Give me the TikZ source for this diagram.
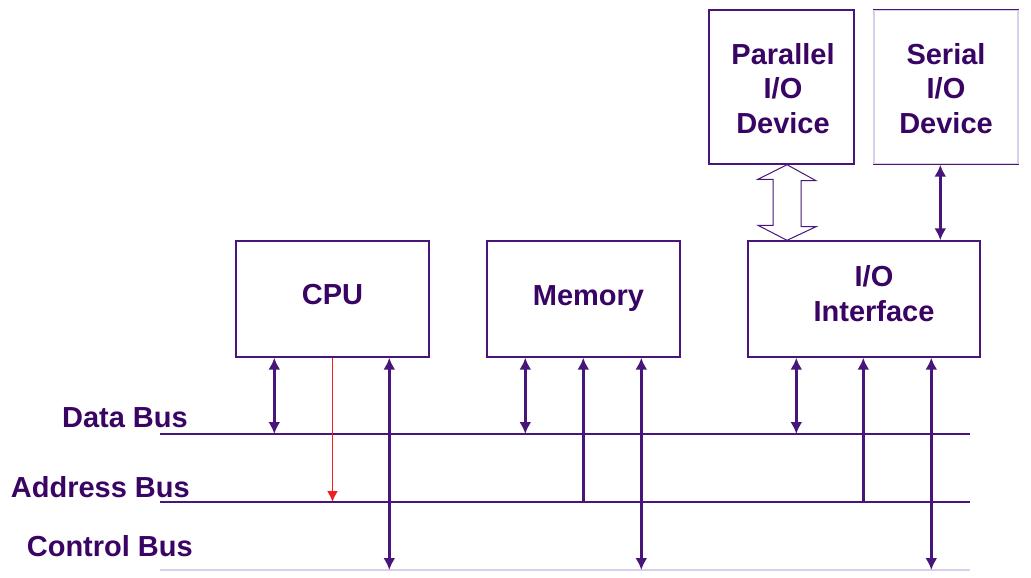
\documentclass[tikz,border=0pt]{standalone}
\usepackage{fontspec}
\setmainfont{Liberation Sans}
\usetikzlibrary{arrows.meta}
\definecolor{txtpurple}{RGB}{58,4,100}
\definecolor{linepurple}{RGB}{72,22,122}
\definecolor{palepurple}{RGB}{218,206,232}
\definecolor{busred}{RGB}{240,30,30}
\tikzset{
  unitbox/.style={draw=linepurple, line width=1.4pt, inner sep=0pt},
  boxtext/.style={text=txtpurple, inner sep=0pt, align=center,
    font=\fontsize{29}{34.5}\selectfont\bfseries},
  busline/.style={draw=linepurple, line width=1.4pt},
  buslabel/.style={anchor=east, inner sep=0pt, text=txtpurple,
    font=\fontsize{29}{34.5}\selectfont\bfseries},
  dbl/.style={linepurple, line width=2.4pt, {Latex[length=12pt,width=12pt]}-{Latex[length=12pt,width=12pt]}},
  sgl/.style={linepurple, line width=2.4pt, -{Latex[length=12pt,width=12pt]}}
}
\begin{document}
\begin{tikzpicture}[x=1pt, y=-1pt]
  \useasboundingbox (0,0) rectangle (1031,578);

  % Les blocs
  \node[unitbox, minimum width=193, minimum height=116,
    label={[boxtext, yshift=4]center:CPU}] (cpu) at (332.5,299) {};
  \node[unitbox, minimum width=193, minimum height=116,
    label={[boxtext, xshift=5]center:Memory}] (mem) at (583.5,299) {};
  \node[unitbox, minimum width=232, minimum height=116,
    label={[boxtext, xshift=10, yshift=5.5]center:I/O\\Interface}] (ioif) at (864,299) {};
  \node[unitbox, minimum width=145, minimum height=154,
    label={[boxtext, xshift=1.5, yshift=-1.5]center:Parallel\\I/O\\Device}] (par) at (781.5,87) {};
  \node[unitbox, draw=palepurple, minimum width=144, minimum height=154,
    label={[boxtext, yshift=-1.5]center:Serial\\I/O\\Device}] (ser) at (946,87) {};
  \draw[linepurple, line width=1.4pt] (ser.north west) -- (ser.north east);
  \draw[linepurple, line width=1.4pt] (ser.south west) -- (ser.south east);

  % Les bus
  \coordinate (db1) at (160,434); \coordinate (db2) at (970,434);
  \coordinate (ab1) at (160,502); \coordinate (ab2) at (970,502);
  \coordinate (cb1) at (160,570); \coordinate (cb2) at (970,570);
  \draw[busline] (db1) -- (db2);
  \draw[busline] (ab1) -- (ab2);
  \draw[busline, draw=palepurple] (cb1) -- (cb2);
  \node[buslabel] (dbl) at (188,418) {Data Bus};
  \node[buslabel] (abl) at (190,487) {Address Bus};
  \node[buslabel] (cbl) at (193,546) {Control Bus};

  % Les liaisons vers les bus
  \draw[dbl] ([xshift=39]cpu.south west) -- ([xshift=39]cpu.south west |- db1);
  \draw[busred, line width=1.8pt, -{Latex[length=11pt,width=11pt]}] (cpu.south) -- (cpu.south |- ab1);
  \draw[dbl] ([xshift=154]cpu.south west) -- ([xshift=154]cpu.south west |- cb1);
  \draw[dbl] ([xshift=39]mem.south west) -- ([xshift=39]mem.south west |- db1);
  \draw[sgl] ([xshift=97]mem.south west |- ab1) -- ([xshift=97]mem.south west);
  \draw[dbl] ([xshift=155]mem.south west) -- ([xshift=155]mem.south west |- cb1);
  \draw[dbl] ([xshift=49]ioif.south west) -- ([xshift=49]ioif.south west |- db1);
  \draw[sgl] ([xshift=116]ioif.south west |- ab1) -- ([xshift=116]ioif.south west);
  \draw[dbl] ([xshift=184]ioif.south west) -- ([xshift=184]ioif.south west |- cb1);

  % Les liaisons vers les périphériques
  \draw[dbl] ([xshift=193]ioif.north west) -- ([xshift=193]ioif.north west |- ser.south);
  \coordinate (pt) at ([xshift=5.5]par.south);
  \coordinate (pb) at (pt |- ioif.north);
  \draw[linepurple, line width=1pt, fill=white] (pt) -- ++(29,16) -- ++(-15,0) -- ++(0,46)
    -- ++(15,0) -- (pb) -- ++(-29,-15) -- ++(15,0) -- ++(0,-46) -- ++(-15,0) -- cycle;
\end{tikzpicture}
\end{document}
